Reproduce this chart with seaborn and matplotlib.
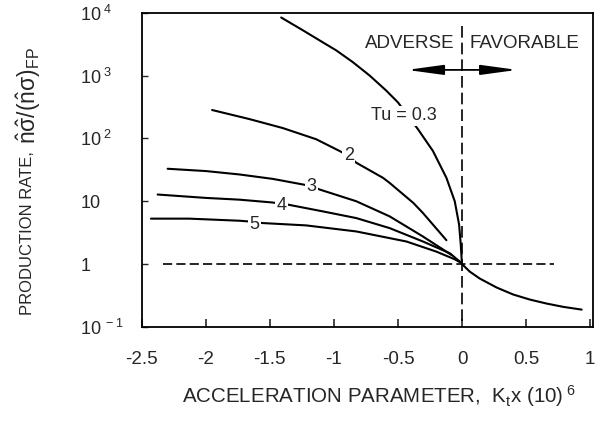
import matplotlib
matplotlib.use("Agg")
import matplotlib.pyplot as plt
import numpy as np
import pandas as pd
import seaborn as sns
from matplotlib.patches import FancyArrowPatch
from matplotlib.ticker import FixedLocator, FixedFormatter, NullLocator

# ---------------- data ----------------
tu03_x = [-1.411, -1.242, -1.112, -0.981, -0.852, -0.721, -0.591, -0.5,
          -0.344, -0.227, -0.122, -0.057, -0.023, -0.01, -0.002]
tu03_y = [8380, 5250, 3630, 2510, 1633, 1000, 575, 374,
          140, 63, 23.6, 10, 4.24, 2.03, 1.1]

tu2_x = [-1.95, -1.659, -1.398, -1.138, -0.955, -0.883, -0.825, -0.617,
         -0.565, -0.38, -0.305, -0.122]
tu2_y = [283, 203, 146, 97, 63, 52.5, 41, 23.6,
         19.6, 9.4, 6.5, 2.4]

tu3_x = [-2.297, -1.997, -1.737, -1.477, -1.242, -1.177, -1.112, -0.825,
         -0.565, -0.305, -0.083]
tu3_y = [32.9, 30.2, 26.7, 22.7, 18.5, 17.4, 15.4, 10,
         5.75, 2.75, 1.4]

tu4_x = [-2.375, -1.997, -1.737, -1.489, -1.411, -1.359, -1.086, -0.825,
         -0.565, -0.305, -0.096, -0.018]
tu4_y = [12.8, 11.3, 10.6, 9.6, 9.2, 8.85, 6.9, 5.4,
         3.74, 2.29, 1.49, 1.1]

tu5_x = [-2.427, -2.127, -1.737, -1.62, -1.555, -1.216, -0.825, -0.434,
         -0.2, -0.06, 0.0]
tu5_y = [5.29, 5.29, 4.9, 4.7, 4.5, 4.13, 3.31, 2.29,
         1.58, 1.2, 1.03]

fav_x = [0.0, 0.06, 0.138, 0.269, 0.398, 0.529, 0.659, 0.789, 0.933]
fav_y = [1.0, 0.76, 0.59, 0.425, 0.329, 0.273, 0.236, 0.209, 0.189]

curve_names = ["Tu = 0.3", "2", "3", "4", "5", "favorable"]
label_x = [-0.455, -0.883, -1.177, -1.411, -1.62]
label_y = [229, 52.5, 17.4, 8.5, 4.24]

ref_h_x = [-2.33, 0.72]
ref_h_y = [1, 1]
ref_v_x = [0, 0]
ref_v_y = [6150, 0.1]

y_ticks = [0.1, 1, 10, 100, 1000, 10000]
y_ticklabels = [r"$\mathregular{10^{\ -1}}$", "1", "10",
                r"$\mathregular{10^{\ 2}}$", r"$\mathregular{10^{\ 3}}$",
                r"$\mathregular{10^{\ 4}}$"]
x_ticks = [-2.5, -2, -1.5, -1, -0.5, 0, 0.5, 1]
x_ticklabels = ["-2.5", "-2", "-1.5", "-1", "-0.5", "0", "0.5", "1"]

# ---------------- style ----------------
sns.set_style("white")
plt.rcParams["font.family"] = ["Liberation Sans", "DejaVu Sans"]
plt.rcParams["mathtext.fontset"] = "custom"
plt.rcParams["mathtext.rm"] = "Liberation Sans"
plt.rcParams["mathtext.it"] = "Liberation Sans:italic"
plt.rcParams["mathtext.bf"] = "Liberation Sans:bold"

frames = []
for name, xs, ys in zip(curve_names,
                        [tu03_x, tu2_x, tu3_x, tu4_x, tu5_x, fav_x],
                        [tu03_y, tu2_y, tu3_y, tu4_y, tu5_y, fav_y]):
    frames.append(pd.DataFrame({"x": xs, "y": ys, "curve": name}))
df = pd.concat(frames, ignore_index=True)

W, H = 600, 423
fig = plt.figure(figsize=(W / 100, H / 100), dpi=100)
ax = fig.add_axes([0.236, 0.227, 0.752, 0.743])

sns.lineplot(data=df, x="x", y="y", units="curve", estimator=None, sort=False,
             color="black", lw=1.5, ax=ax, legend=False)

ax.plot(ref_h_x, ref_h_y, color="black", lw=1.2, linestyle=(0, (5.5, 2.5)))
ax.plot(ref_v_x, ref_v_y, color="black", lw=1.2, linestyle=(0, (7, 3)))

ax.set_yscale("log")
ax.set_xlim(-2.5, 1.02)
ax.set_ylim(0.1, 10000)

ax.yaxis.set_major_locator(FixedLocator(y_ticks))
ax.yaxis.set_major_formatter(FixedFormatter(y_ticklabels))
ax.yaxis.set_minor_locator(NullLocator())
ax.xaxis.set_major_locator(FixedLocator(x_ticks))
ax.xaxis.set_major_formatter(FixedFormatter(x_ticklabels))

ax.tick_params(axis="y", direction="in", length=4, width=1.0, pad=44,
               labelsize=13, left=True, right=False)
ax.tick_params(axis="x", direction="in", length=6, width=1.2, pad=17,
               labelsize=13.5, bottom=True, top=False)
for lab in ax.get_yticklabels():
    lab.set_horizontalalignment("left")

for s in ax.spines.values():
    s.set_visible(True)
    s.set_color("black")
    s.set_linewidth(1.3)

# curve labels
for name, lx, ly in zip(curve_names[:5], label_x, label_y):
    ax.text(lx, ly, name, ha="center", va="center", fontsize=13,
            bbox=dict(facecolor="white", edgecolor="none", pad=1.0))

ax.text(-0.06, 3240, "ADVERSE", ha="right", va="center", fontsize=13.5)
ax.text(0.06, 3240, "FAVORABLE", ha="left", va="center", fontsize=13.5)

arrow = FancyArrowPatch((-0.43, 1230), (0.43, 1230),
                        arrowstyle="<|-|>,head_length=2.2,head_width=0.3",
                        mutation_scale=10, color="black", lw=1.3,
                        shrinkA=0, shrinkB=0)
ax.add_patch(arrow)

# y label in two pieces (plain words + math part)
ax.set_ylabel("")
t1 = fig.text(27.5 / W, 1 - 315 / H, "PRODUCTION RATE,", rotation=90,
              ha="center", va="bottom", fontsize=12)
fig.canvas.draw()
bb = t1.get_window_extent(renderer=fig.canvas.get_renderer())
fig.text(29 / W, (bb.y1 + 7) / H,
         r"$\mathregular{\hat{n}\hat{\sigma}/(\hat{n}\sigma)_{FP}}$",
         rotation=90, ha="center", va="bottom", fontsize=16.5)

ax.set_xlabel(r"ACCELERATION PARAMETER,  K$\mathregular{_t}$x (10)$\mathregular{^{\ 6}}$",
              fontsize=14.8)
ax.xaxis.set_label_coords(0.526, -0.18)

fig.savefig("out.png", dpi=100)
